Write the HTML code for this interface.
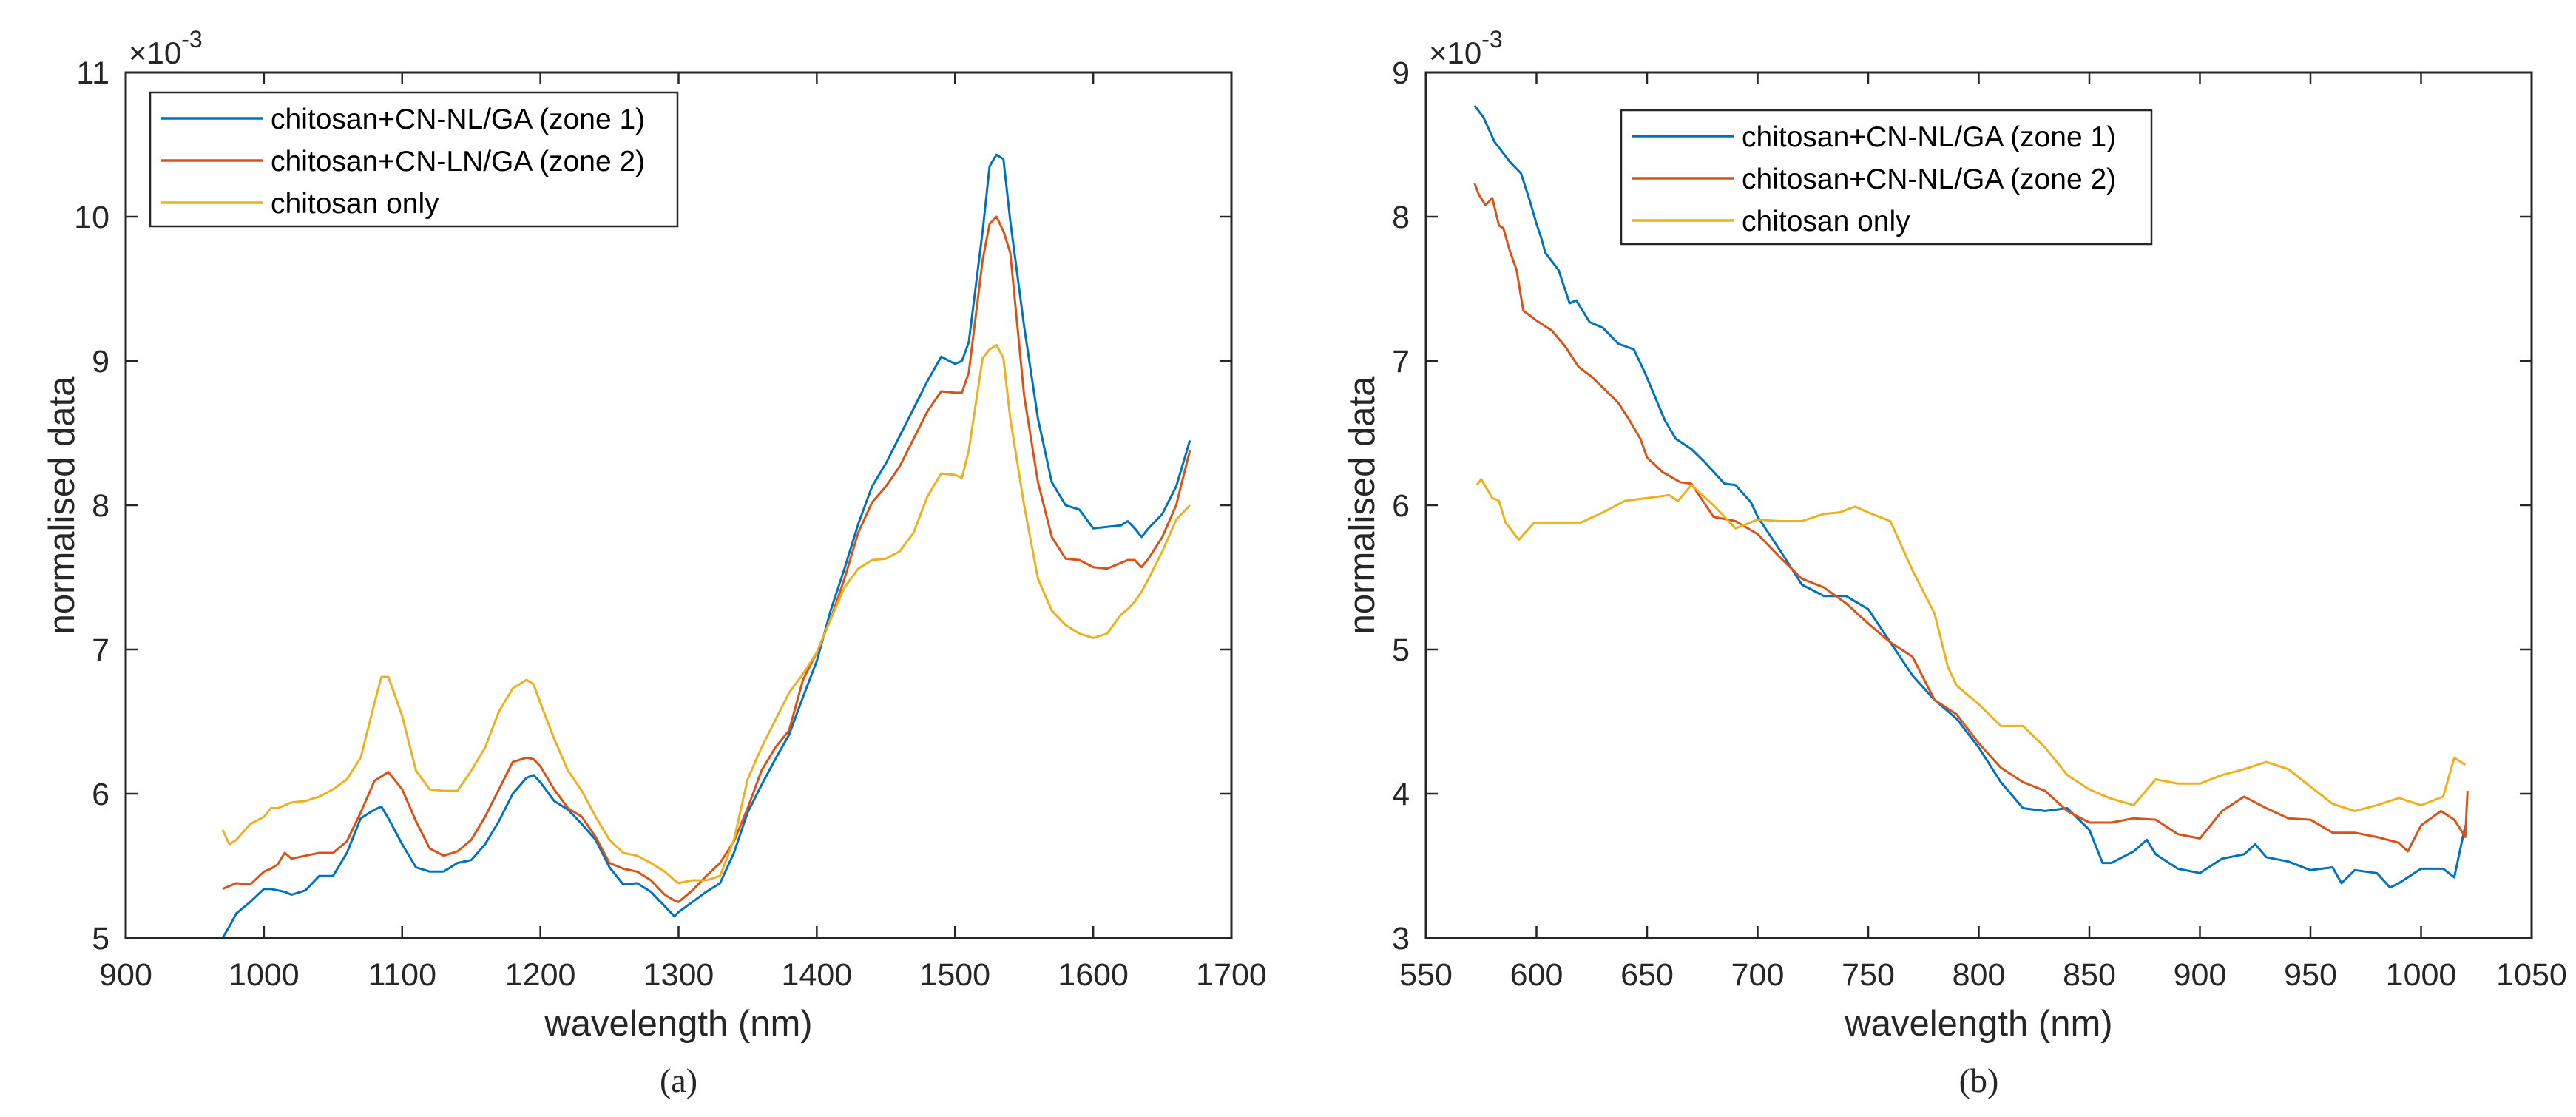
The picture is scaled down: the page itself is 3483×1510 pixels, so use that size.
<!DOCTYPE html>
<html><head><meta charset="utf-8">
<style>
html,body{margin:0;padding:0;background:#fff;}
svg{display:block;}
text{font-family:"Liberation Sans",Arial,sans-serif;fill:#262626;}
</style></head>
<body>
<svg id="fig" width="3483" height="1510" viewBox="0 0 3483 1510" xmlns="http://www.w3.org/2000/svg"></svg>
<script>
// ---------- Panel (a) data ----------
const aWave = [970,975,980,990,1000,1005,1010,1015,1020,1030,1040,1050,1060,1070,1080,1085,1090,1100,1110,1120,1130,1140,1150,1160,1170,1180,1190,1195,1200,1210,1220,1230,1240,1250,1260,1270,1280,1290,1297,1300,1310,1320,1330,1340,1350,1360,1370,1380,1390,1400,1410,1420,1430,1440,1450,1460,1470,1480,1490,1500,1505,1510,1520,1525,1530,1535,1540,1550,1560,1570,1580,1590,1600,1610,1620,1625,1630,1635,1640,1650,1660,1670];
const aZone1 = [5.00,5.08,5.17,5.25,5.34,5.34,5.33,5.32,5.30,5.33,5.43,5.43,5.59,5.83,5.89,5.91,5.83,5.65,5.49,5.46,5.46,5.52,5.54,5.65,5.81,6.00,6.11,6.13,6.08,5.95,5.89,5.79,5.68,5.49,5.37,5.38,5.32,5.22,5.15,5.18,5.25,5.32,5.38,5.59,5.87,6.06,6.24,6.41,6.67,6.92,7.27,7.56,7.87,8.13,8.29,8.48,8.67,8.86,9.03,8.98,9.00,9.13,9.90,10.35,10.43,10.40,9.97,9.24,8.60,8.16,8.00,7.97,7.84,7.85,7.86,7.89,7.84,7.78,7.84,7.94,8.13,8.45];
const aZone2 = [5.34,5.36,5.38,5.37,5.46,5.48,5.51,5.59,5.55,5.57,5.59,5.59,5.67,5.87,6.09,6.12,6.15,6.03,5.81,5.62,5.57,5.60,5.68,5.84,6.03,6.22,6.25,6.24,6.19,6.03,5.90,5.84,5.70,5.52,5.48,5.46,5.40,5.30,5.26,5.25,5.33,5.43,5.52,5.67,5.90,6.16,6.32,6.44,6.79,6.98,7.21,7.49,7.81,8.02,8.13,8.27,8.46,8.65,8.79,8.78,8.78,8.92,9.70,9.95,10.00,9.90,9.75,8.76,8.16,7.78,7.63,7.62,7.57,7.56,7.60,7.62,7.62,7.57,7.63,7.78,8.00,8.38];
const aChit = [5.75,5.65,5.68,5.79,5.84,5.90,5.90,5.92,5.94,5.95,5.98,6.03,6.10,6.25,6.63,6.81,6.81,6.54,6.16,6.03,6.02,6.02,6.16,6.32,6.57,6.73,6.79,6.76,6.63,6.38,6.16,6.02,5.84,5.68,5.59,5.57,5.52,5.46,5.40,5.38,5.40,5.40,5.43,5.68,6.10,6.32,6.51,6.70,6.83,6.98,7.21,7.43,7.56,7.62,7.63,7.68,7.81,8.06,8.22,8.21,8.19,8.38,9.02,9.08,9.11,9.02,8.60,8.00,7.49,7.27,7.17,7.11,7.08,7.11,7.24,7.28,7.33,7.40,7.49,7.68,7.90,8.00];
const aXTicks = [900,1000,1100,1200,1300,1400,1500,1600,1700];
const aYTicks = [5,6,7,8,9,10,11];
const aLegend = ["chitosan+CN-NL/GA (zone 1)","chitosan+CN-LN/GA (zone 2)","chitosan only"];

// ---------- Panel (b) data ----------
const bWave1 = [572,576,581,588,593,597,600,602,604,610,615,618,624,630,637,644,649,658,663,670,676,685,690,697,700,710,720,730,740,750,760,770,780,790,800,810,820,830,840,850,856,860,870,876,880,890,900,910,920,925,930,940,950,960,964,970,980,986,990,1000,1010,1015,1020];
const bZone1 = [8.77,8.69,8.52,8.38,8.30,8.11,7.95,7.86,7.75,7.63,7.40,7.42,7.27,7.23,7.12,7.08,6.92,6.59,6.46,6.39,6.30,6.15,6.14,6.02,5.92,5.69,5.45,5.37,5.37,5.28,5.05,4.82,4.65,4.52,4.32,4.08,3.90,3.88,3.90,3.75,3.52,3.52,3.60,3.68,3.58,3.48,3.45,3.55,3.58,3.65,3.56,3.53,3.47,3.49,3.38,3.47,3.45,3.35,3.38,3.48,3.48,3.42,3.78];
const bWave2 = [572,574,577,580,583,585,588,591,594,600,607,613,619,625,631,637,642,647,650,657,665,670,680,690,700,710,720,730,740,750,760,770,780,790,800,810,820,830,840,850,860,870,880,890,900,910,920,930,940,950,960,970,980,990,994,1000,1009,1015,1020,1021];
const bZone2 = [8.23,8.15,8.08,8.13,7.94,7.92,7.76,7.63,7.35,7.28,7.21,7.10,6.96,6.89,6.80,6.71,6.59,6.46,6.33,6.23,6.16,6.15,5.92,5.89,5.80,5.64,5.49,5.43,5.32,5.18,5.05,4.95,4.65,4.55,4.35,4.18,4.08,4.02,3.88,3.80,3.80,3.83,3.82,3.72,3.69,3.88,3.98,3.90,3.83,3.82,3.73,3.73,3.70,3.66,3.60,3.78,3.88,3.82,3.70,4.02];
const bWave3 = [573,575,580,583,586,592,599,610,620,630,640,650,660,664,670,680,690,700,710,720,730,737,744,750,760,770,780,786,790,800,810,820,830,840,850,859,870,880,890,900,910,920,930,940,950,960,970,980,990,1000,1010,1015,1020];
const bChit = [6.14,6.18,6.05,6.03,5.88,5.76,5.88,5.88,5.88,5.95,6.03,6.05,6.07,6.03,6.14,6.00,5.84,5.90,5.89,5.89,5.94,5.95,5.99,5.95,5.89,5.55,5.25,4.88,4.75,4.62,4.47,4.47,4.32,4.13,4.03,3.97,3.92,4.10,4.07,4.07,4.13,4.17,4.22,4.17,4.05,3.93,3.88,3.92,3.97,3.92,3.98,4.25,4.20];
const bXTicks = [550,600,650,700,750,800,850,900,950,1000,1050];
const bYTicks = [3,4,5,6,7,8,9];
const bLegend = ["chitosan+CN-NL/GA (zone 1)","chitosan+CN-NL/GA (zone 2)","chitosan only"];

const COLORS = ["#0072BD","#D95319","#EDB120"];
const NS = "http://www.w3.org/2000/svg";
const svg = document.getElementById('fig');
function mk(tag, attrs, parent){
  const e = document.createElementNS(NS, tag);
  for (const k in attrs) e.setAttribute(k, attrs[k]);
  (parent||svg).appendChild(e);
  return e;
}

function panel(cfg){
  const g = mk('g', {});
  
  
  const L=cfg.L, R=cfg.R, T=98, B=1268;
  const sx = v => L + (v - cfg.xmin)/(cfg.xmax-cfg.xmin)*(R-L);
  const sy = v => B - (v - cfg.ymin)/(cfg.ymax-cfg.ymin)*(B-T);
  // series
  cfg.series.forEach((s,i)=>{
    let d = '';
    s.x.forEach((xv,j)=>{ d += (j?'L':'M') + sx(xv).toFixed(1) + ',' + sy(s.y[j]).toFixed(1); });
    const p = mk('path', {d:d, fill:'none', stroke:COLORS[i], 'stroke-width':3, 'stroke-linejoin':'round'}, g);
    
    
  });
  // axes box
  const box = mk('rect', {x:L, y:T, width:R-L, height:B-T, fill:'none', stroke:'#262626', 'stroke-width':3}, g);
  
  
  // x ticks
  cfg.xticks.forEach(t=>{
    const x = sx(t);
    if (t!==cfg.xmin && t!==cfg.xmax){
      const a = mk('line', {x1:x, y1:B, x2:x, y2:B-16, stroke:'#262626', 'stroke-width':2.5}, g);
      
      
      const b = mk('line', {x1:x, y1:T, x2:x, y2:T+16, stroke:'#262626', 'stroke-width':2.5}, g);
      
      
    }
    const tl = mk('text', {x:x, y:1332, 'font-size':43, 'text-anchor':'middle'}, g);
    tl.textContent = t;
    
    
  });
  cfg.yticks.forEach(t=>{
    const y = sy(t);
    if (t!==cfg.ymin && t!==cfg.ymax){
      const a = mk('line', {x1:L, y1:y, x2:L+16, y2:y, stroke:'#262626', 'stroke-width':2.5}, g);
      
      
      const b = mk('line', {x1:R, y1:y, x2:R-16, y2:y, stroke:'#262626', 'stroke-width':2.5}, g);
      
      
    }
    const tl = mk('text', {x:L-22, y:y+15, 'font-size':43, 'text-anchor':'end'}, g);
    tl.textContent = t;
    
    
  });
  // exponent
  const ex = mk('text', {x:L+4, y:86, 'font-size':42}, g);
  
  
  ex.innerHTML = '×10<tspan dy="-22" font-size="32">-3</tspan>';
  // axis labels
  const xl = mk('text', {x:(L+R)/2, y:1400, 'font-size':49, 'text-anchor':'middle'}, g);
  xl.textContent = 'wavelength (nm)';
  
  
  const yx = L-70, yy = (T+B)/2;
  const yl = mk('text', {x:yx, y:yy, 'font-size':49, 'text-anchor':'middle', transform:'rotate(-90 '+yx+' '+yy+')'}, g);
  yl.textContent = 'normalised data';
  
  
  // caption
  const cap = mk('text', {x:(L+R)/2, y:1476, 'font-size':46, 'text-anchor':'middle', style:'font-family:"Liberation Serif",serif'}, g);
  cap.textContent = cfg.caption;
  
  
  // legend
  const lg = mk('g', {}, g);
  
  
  const lb = cfg.legendBox;
  mk('rect', {x:lb[0], y:lb[1], width:lb[2], height:lb[3], fill:'#fff', stroke:'#262626', 'stroke-width':2.5}, lg);
  cfg.legend.forEach((txt,i)=>{
    const ey = lb[1] + 35 + i*57;
    const le = mk('g', {}, lg);
    
    
    mk('line', {x1:lb[0]+15, y1:ey, x2:lb[0]+152, y2:ey, stroke:COLORS[i], 'stroke-width':3.5}, le);
    const t = mk('text', {x:lb[0]+163, y:ey+14, 'font-size':39, style:'fill:#000'}, le);
    t.textContent = txt;
  });
}

panel({name:'chart-a', L:170, R:1665, xmin:900, xmax:1700, ymin:5, ymax:11,
  xticks:aXTicks, yticks:aYTicks, caption:'(a)', legend:aLegend, legendBox:[203,125,713,181],
  series:[{x:aWave,y:aZone1},{x:aWave,y:aZone2},{x:aWave,y:aChit}]});
panel({name:'chart-b', L:1928, R:3423, xmin:550, xmax:1050, ymin:3, ymax:9,
  xticks:bXTicks, yticks:bYTicks, caption:'(b)', legend:bLegend, legendBox:[2192,149,717,181],
  series:[{x:bWave1,y:bZone1},{x:bWave2,y:bZone2},{x:bWave3,y:bChit}]});
</script>
</body></html>
